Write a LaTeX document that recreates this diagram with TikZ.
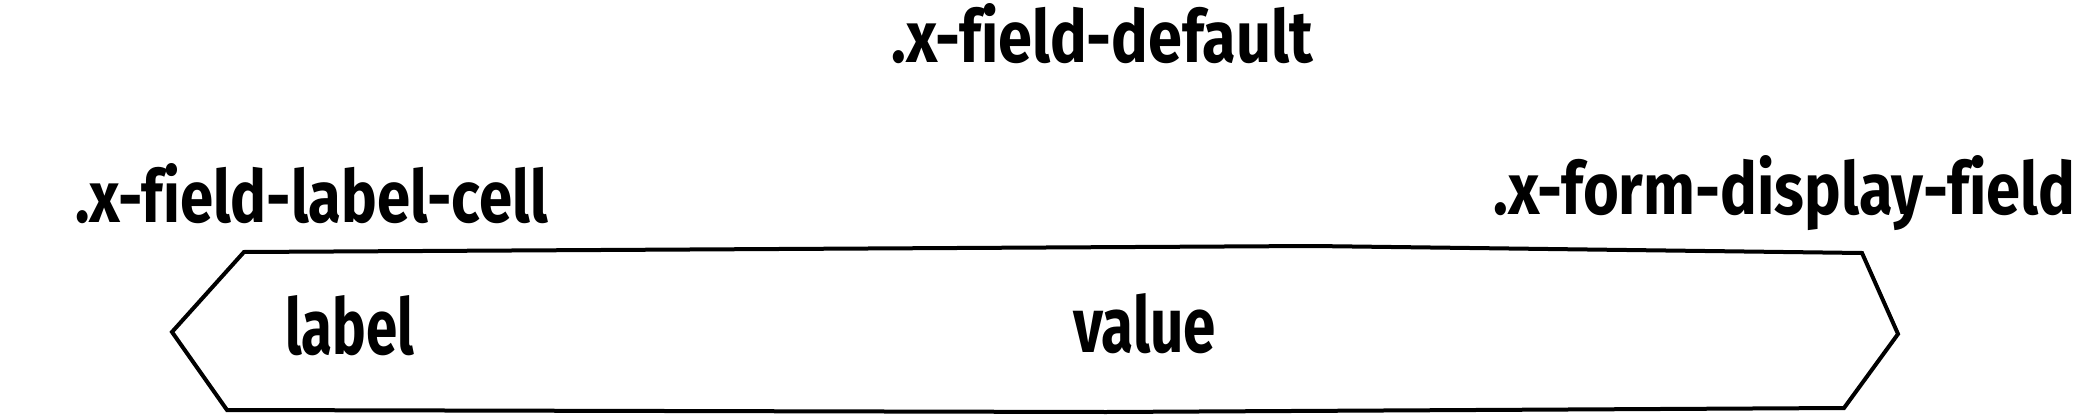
\documentclass[tikz,border=0pt]{standalone}
\usepackage{fontspec}
\usepackage{graphicx}
\setmainfont{Fira Sans}[Ligatures={NoCommon}]
\tikzset{
  lbl/.style={anchor=base west, inner sep=0pt, outer sep=0pt, font=\bfseries},
  shapeline/.style={draw=black, line width=4pt, line join=miter}
}
\newcommand{\fittext}[2]{\resizebox{#1pt}{59pt}{#2}}
\begin{document}
\begin{tikzpicture}[x=1pt,y=-1pt]
\useasboundingbox (0,0) rectangle (2095,420);
\draw[shapeline] (172,332) -- (244,252) -- (1313,246) -- (1862,253) -- (1898,334)
  -- (1844,408) -- (1106,412) -- (227,410) -- cycle;
\node[lbl] (fielddefault) at (891,63) {\fittext{422}{.x-f{}ield-default}};
\node[lbl] (labelcell) at (75,222) {\fittext{473}{.x-f{}ield-label-cell}};
\node[lbl] (displayfield) at (1493,214) {\fittext{582}{.x-form-display-f{}ield}};
\node[lbl] (labeltext) at (285,354) {\fittext{129}{label}};
\node[lbl] (valuetext) at (1073,352) {\fittext{143}{value}};
\end{tikzpicture}
\end{document}
